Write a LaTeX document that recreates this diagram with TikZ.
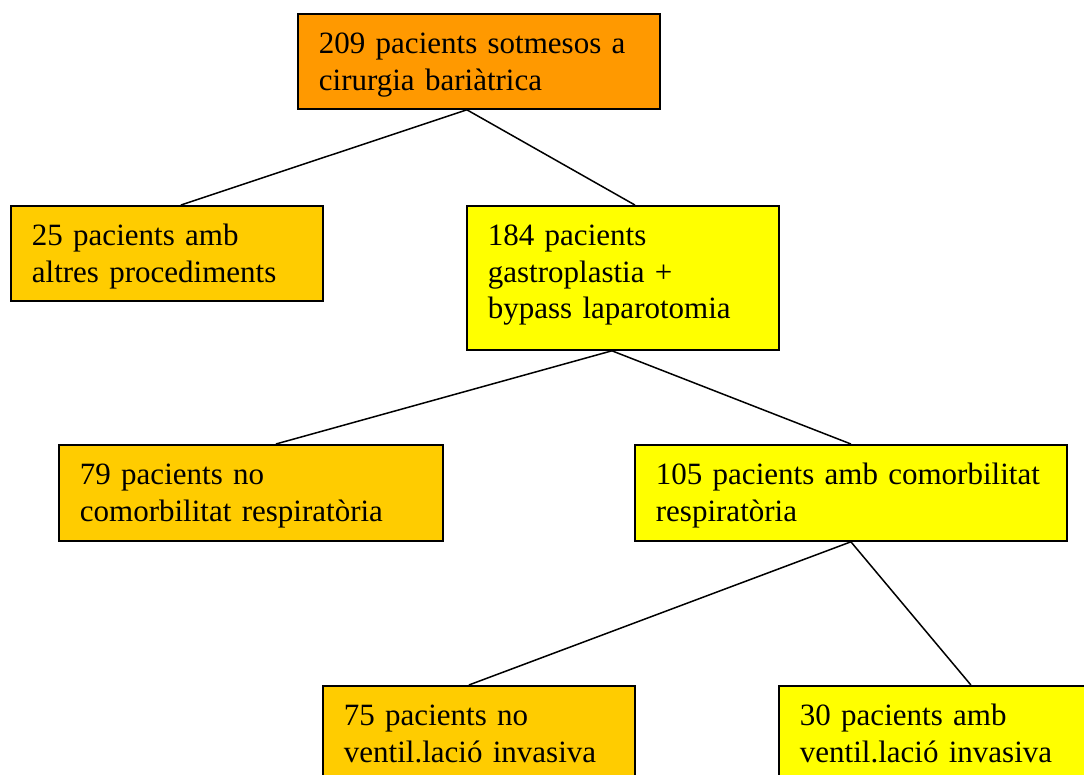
\documentclass[tikz,border=0pt]{standalone}
\usepackage{fontspec}
\setmainfont{Liberation Serif}
\definecolor{taronja}{HTML}{FF9900}
\definecolor{or}{HTML}{FFCC00}
\definecolor{groc}{HTML}{FFFF00}
\begin{document}
\begin{tikzpicture}[x=1pt,y=-1pt,
		caixa/.style={draw=black, line width=1.8pt, anchor=north west, inner xsep=21pt, inner ysep=0pt,
			align=left, text height=40pt, font=\fontsize{31}{36.5}\selectfont},
		enllac/.style={line width=1.5pt}]
		 	\useasboundingbox (0,0) rectangle (1084,774);
		 	
		 	%Level 0
		 	\node[caixa, fill=taronja, text width=320pt, text depth=55pt] (P209) at (297,13) {\mbox{209 pacients sotmesos a}\\cirurgia bariàtrica};
		 	
		 	%Level 1
		 	\node[caixa, fill=or, text width=270pt, text depth=55pt] (P25) at (10,205) {25 pacients amb\\altres procediments};
		 	\node[caixa, fill=groc, text width=270pt, text depth=104pt] (P184) at (466,205) {184 pacients\\gastroplastia +\\bypass laparotomia};
		 	
		 	%Level 2
		 	\node[caixa, fill=or, text width=342pt, text depth=56pt] (P79) at (58,444) {79 pacients no\\comorbilitat respiratòria};
		 	\node[caixa, fill=groc, text width=390pt, text depth=56pt] (P105) at (634,444) {\mbox{105 pacients amb comorbilitat}\\respiratòria};
		 	
		 	%Level 3
		 	\node[caixa, fill=or, text width=270pt, text depth=55pt] (P75) at (322,685) {75 pacients no\\ventil.lació invasiva};
		 	\node[caixa, fill=groc, text width=270pt, text depth=55pt] (P30) at (778,685) {30 pacients amb\\ventil.lació invasiva};
		 	
		 	%Connectors
		 	\draw[enllac] ([xshift=-12pt]P209.south) -- ([xshift=14pt]P25.north);
		 	\draw[enllac] ([xshift=-12pt]P209.south) -- ([xshift=12pt]P184.north);
		 	\draw[enllac] ([xshift=-11pt]P184.south) -- ([xshift=25pt]P79.north);
		 	\draw[enllac] ([xshift=-11pt]P184.south) -- (P105.north);
		 	\draw[enllac] (P105.south) -- ([xshift=-10pt]P75.north);
		 	\draw[enllac] (P105.south) -- ([xshift=36pt]P30.north);
		 \end{tikzpicture}
\end{document}
